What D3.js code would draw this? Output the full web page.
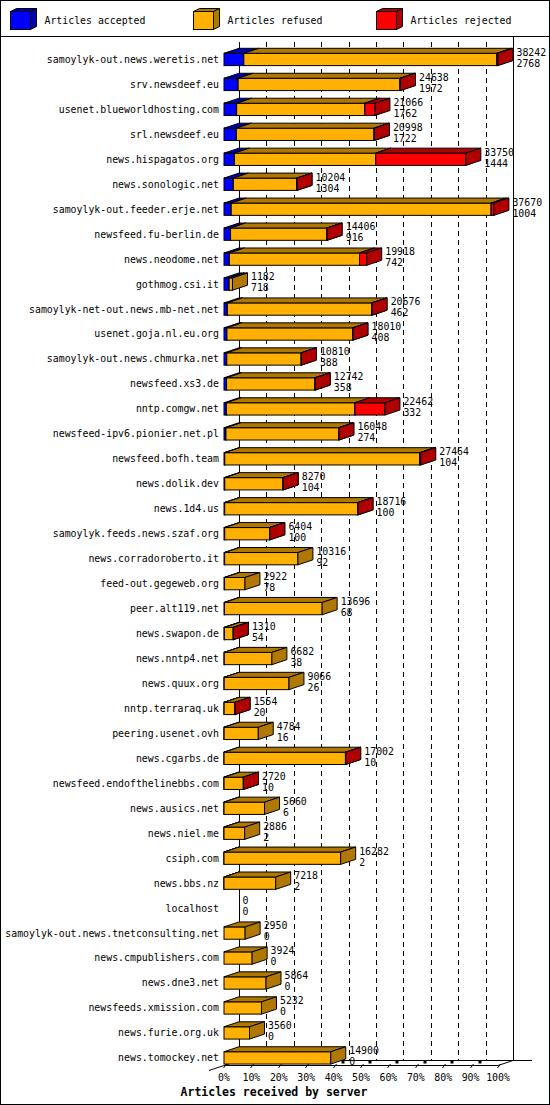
<!DOCTYPE html>
<html>
<head>
<meta charset="utf-8">
<script src="https://cdn.jsdelivr.net/npm/d3@7.9.0/dist/d3.min.js"></script>
<style>
  body { margin: 0; background: #fff; }
  svg text { font-family: "DejaVu Sans Mono", monospace; font-size: 9.87px; fill: #000; }
  svg .title { font-weight: bold; font-size: 11.5px; }
</style>
</head>
<body>
<svg id="chart" width="550" height="1105"></svg>
<script>
// servers, as listed top to bottom
const servers = [
  'samoylyk-out.news.weretis.net', 'srv.newsdeef.eu', 'usenet.blueworldhosting.com',
  'srl.newsdeef.eu', 'news.hispagatos.org', 'news.sonologic.net',
  'samoylyk-out.feeder.erje.net', 'newsfeed.fu-berlin.de', 'news.neodome.net',
  'gothmog.csi.it', 'samoylyk-net-out.news.mb-net.net', 'usenet.goja.nl.eu.org',
  'samoylyk-out.news.chmurka.net', 'newsfeed.xs3.de', 'nntp.comgw.net',
  'newsfeed-ipv6.pionier.net.pl', 'newsfeed.bofh.team', 'news.dolik.dev',
  'news.1d4.us', 'samoylyk.feeds.news.szaf.org', 'news.corradoroberto.it',
  'feed-out.gegeweb.org', 'peer.alt119.net', 'news.swapon.de', 'news.nntp4.net',
  'news.quux.org', 'nntp.terraraq.uk', 'peering.usenet.ovh', 'news.cgarbs.de',
  'newsfeed.endofthelinebbs.com', 'news.ausics.net', 'news.niel.me', 'csiph.com',
  'news.bbs.nz', 'localhost', 'samoylyk-out.news.tnetconsulting.net',
  'news.cmpublishers.com', 'news.dne3.net', 'newsfeeds.xmission.com',
  'news.furie.org.uk', 'news.tomockey.net'
];

// total articles offered (first number next to each bar)
const offered = [
  38242, 24638, 21066, 20998, 33750, 10204, 37670, 14406, 19918, 1182,
  20676, 18010, 10810, 12742, 22462, 16048, 27464, 8270, 18716, 6404,
  10316, 2922, 13696, 1310, 6682, 9066, 1554, 4784, 17002, 2720,
  5660, 2886, 16282, 7218, 0, 2950, 3924, 5864, 5232, 3560, 14900
];

// articles accepted (second number)
const accepted = [
  2768, 1972, 1762, 1722, 1444, 1304, 1004, 916, 742, 718,
  462, 408, 388, 358, 332, 274, 104, 104, 100, 100,
  92, 78, 68, 54, 38, 26, 20, 16, 10, 10,
  6, 2, 2, 2, 0, 0, 0, 0, 0, 0, 0
];

// articles refused
const refused = [
  35324, 22586, 17904, 19216, 19736, 8860, 36286, 13440, 18176, 464,
  20154, 17552, 10382, 12344, 17940, 15724, 27210, 8136, 18566, 6274,
  10224, 2844, 13628, 1236, 6644, 9040, 1514, 4768, 16942, 2690,
  5654, 2884, 16280, 7216, 0, 2950, 3924, 5864, 5232, 3560, 14900
];

// articles rejected
const rejected = [
  150, 80, 1400, 60, 12570, 40, 380, 50, 1000, 0,
  60, 50, 40, 40, 4190, 50, 150, 30, 50, 30,
  0, 0, 0, 20, 0, 0, 20, 0, 50, 20,
  0, 0, 0, 0, 0, 0, 0, 0, 0, 0, 0
];

const pctTicks = [0, 10, 20, 30, 40, 50, 60, 70, 80, 90, 100];

const seriesNames = ['Articles accepted', 'Articles refused', 'Articles rejected'];
const seriesFront = ['#0000ff', '#ffb000', '#ff0000'];
const seriesDark  = ['#0000b0', '#b07800', '#b00000'];

const svg = d3.select('#chart');
const DX = 15, DY = 5;            // 3d depth of the plot
const frontL = 224, frontR = 498, floorY = 1065;

const maxTotal = d3.max(offered);
const x = d3.scaleLinear().domain([0, maxTotal]).range([frontL, frontR]);
const xPct = d3.scaleLinear().domain([0, 100]).range([frontL, frontR]);
const y = d3.scaleBand().domain(servers).range([41.6, floorY]);

// frame + legend separator
svg.append('rect').attr('x', 0.5).attr('y', 0.5).attr('width', 549).attr('height', 1104)
  .attr('fill', 'none').attr('stroke', '#000');
svg.append('line').attr('x1', 0).attr('x2', 550).attr('y1', 36.5).attr('y2', 36.5)
  .attr('stroke', '#000');

// one 3d block: front face, top face, right side
function box(g, x0, x1, yTop, yBot, dx, dy, front, dark) {
  g.append('rect')
    .attr('x', x0).attr('y', yTop).attr('width', Math.max(0, x1 - x0)).attr('height', yBot - yTop)
    .attr('fill', front).attr('stroke', '#000');
  g.append('polygon')
    .attr('points', [[x0, yTop], [x0 + dx, yTop - dy], [x1 + dx, yTop - dy], [x1, yTop]].join(' '))
    .attr('fill', dark).attr('stroke', '#000');
  g.append('polygon')
    .attr('points', [[x1, yTop], [x1 + dx, yTop - dy], [x1 + dx, yBot - dy], [x1, yBot]].join(' '))
    .attr('fill', dark).attr('stroke', '#000');
}

// legend
const legendX = [10.5, 193.5, 376.5];
seriesNames.forEach((name, i) => {
  const g = svg.append('g');
  box(g, legendX[i], legendX[i] + 20, 11.5, 29.5, 6, 3, seriesFront[i], seriesDark[i]);
  g.append('text').attr('x', legendX[i] + 34).attr('y', 21).attr('dy', '0.35em').text(name);
});

// back wall
const backL = frontL + DX, backR = frontR + DX, backY = floorY - DY;
svg.append('line').attr('x1', backL + 0.5).attr('x2', backL + 0.5).attr('y1', 42).attr('y2', backY)
  .attr('stroke', '#000');
svg.append('line').attr('x1', backR + 0.5).attr('x2', backR + 0.5).attr('y1', 37).attr('y2', backY)
  .attr('stroke', '#000');

// dashed grid on the back wall
svg.append('g').selectAll('line').data(pctTicks.slice(1, -1)).join('line')
  .attr('x1', d => Math.round(xPct(d) + DX) + 0.5)
  .attr('x2', d => Math.round(xPct(d) + DX) + 0.5)
  .attr('y1', 42).attr('y2', backY)
  .attr('stroke', '#000').attr('stroke-dasharray', '5,4');

// floor
svg.append('line').attr('x1', backL).attr('x2', backR + 19).attr('y1', backY + 0.5).attr('y2', backY + 0.5)
  .attr('stroke', '#000');
svg.append('line').attr('x1', frontL).attr('x2', frontR).attr('y1', floorY + 0.5).attr('y2', floorY + 0.5)
  .attr('stroke', '#000');
svg.append('line').attr('x1', frontR).attr('x2', backR).attr('y1', floorY + 0.5).attr('y2', backY + 0.5)
  .attr('stroke', '#000');
svg.append('line').attr('x1', frontL - DX).attr('x2', backL).attr('y1', floorY + DY + 0.5).attr('y2', backY + 0.5)
  .attr('stroke', '#000');

// ticks and tick labels
const tickG = svg.append('g');
pctTicks.forEach(p => {
  const tx = Math.round(xPct(p)) + 0.5;
  tickG.append('line').attr('x1', tx - 1).attr('y1', floorY + 3).attr('x2', tx + 2).attr('y2', floorY - 1)
    .attr('stroke', '#000');
  if (p < 100) {
    tickG.append('rect').attr('x', tx + 7).attr('y', backY + 0.5).attr('width', 3).attr('height', 3)
      .attr('fill', '#000');
  }
  tickG.append('text').attr('x', xPct(p)).attr('y', 1078).attr('dy', '0.35em')
    .attr('text-anchor', 'middle').text(p + '%');
});

svg.append('text').attr('class', 'title').attr('x', 274).attr('y', 1092).attr('dy', '0.35em')
  .attr('text-anchor', 'middle').text('Articles received by server');

// bars
const barsG = svg.append('g');
servers.forEach((s, i) => {
  const top = y(s) + 11.7, bot = y(s) + 24;
  const vals = [accepted[i], refused[i], rejected[i]];
  let acc = 0;
  vals.forEach((v, k) => {
    if (v <= 0) return;
    box(barsG, x(acc), x(acc + v), top, bot, DX, DY, seriesFront[k], seriesDark[k]);
    acc += v;
  });
  const lx = x(acc) + DX + 3.5;
  barsG.append('text').attr('x', lx).attr('y', top - 1).attr('dy', '0.35em').text(offered[i]);
  barsG.append('text').attr('x', lx).attr('y', top + 10).attr('dy', '0.35em').text(accepted[i]);
  svg.append('text').attr('x', 219).attr('y', (top + bot) / 2).attr('dy', '0.35em')
    .attr('text-anchor', 'end').text(s);
});
</script>
</body>
</html>
